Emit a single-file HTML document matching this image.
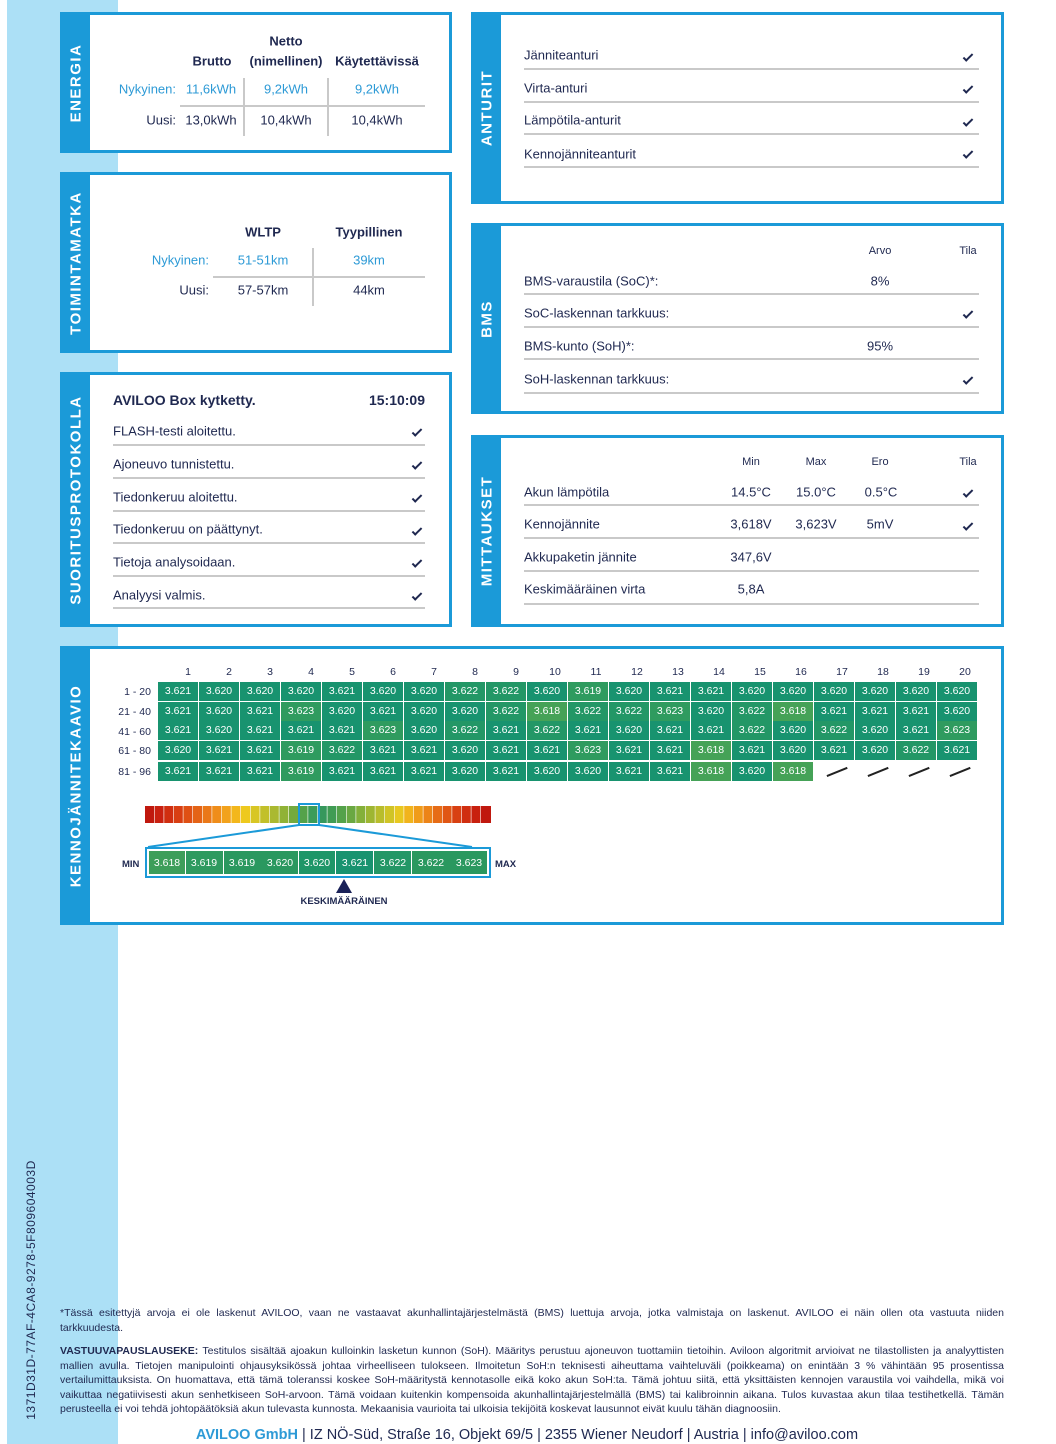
<!DOCTYPE html>
<html><head><meta charset="utf-8">
<style>
*{margin:0;padding:0;box-sizing:border-box}
body{width:1056px;height:1444px;position:relative;background:#fff;font-family:"Liberation Sans",sans-serif;color:#1f2850;overflow:hidden}
.strip{position:absolute;left:7px;top:0;width:111px;height:1444px;background:#ace0f6}
.box{position:absolute;border:3px solid #1b9ad8;background:#fff}
.bar{position:absolute;left:0;top:0;bottom:0;width:27px;background:#1b9ad8}
.vl{position:absolute;left:13px;top:50%;transform:translate(-50%,-50%) rotate(-90deg);color:#fff;font-weight:bold;font-size:15px;letter-spacing:1.5px;white-space:nowrap}
.t{position:absolute;transform:translateY(-50%);white-space:nowrap;font-size:13px}
.c{position:absolute;transform:translate(-50%,-50%);white-space:nowrap;font-size:13px}
.r{position:absolute;transform:translate(-100%,-50%);white-space:nowrap;font-size:13px}
.b{font-weight:bold}
.lb{color:#2d9ad6}
.h{position:absolute;height:2px;background:#c9c9c9}
.v{position:absolute;width:2px;background:#c9c9c9}
.ck{position:absolute;width:5px;height:10px;border-right:2px solid #1f2850;border-bottom:2px solid #1f2850;transform:translate(-50%,-65%) rotate(45deg);font-size:0;color:transparent}
.sm{font-size:11px}
.row{position:absolute;left:158px;display:flex;height:19px}
.row div{width:40px;margin-right:1px;height:19px;color:#fff;font-size:10.5px;text-align:center;line-height:19px;background:#18936f}
.row .a{background:#239766}.row .bq{background:#2f9b5f}.row .d{background:#45a257}
.row .n{background:#fff;position:relative}
.row .n::after{content:"";position:absolute;left:12px;top:9px;width:22px;height:1.5px;background:#222;transform:rotate(-22deg)}
.rl{position:absolute;transform:translate(-100%,-50%);font-size:10.5px;left:151px}
.cn{position:absolute;transform:translate(-50%,-50%);font-size:10.5px;top:672px}
.foot{position:absolute;left:60px;width:944px;font-family:"Liberation Sans Narrow","Liberation Sans",sans-serif;font-size:10.5px;line-height:14.5px;text-align:justify;color:#1f2850}
</style></head><body>
<div class="strip"></div>
<div style="position:absolute;left:31px;top:1290px;transform:translate(-50%,-50%) rotate(-90deg);font-size:12px;color:#1f2850;white-space:nowrap;letter-spacing:0.5px">1371D31D-77AF-4CA8-9278-5F809604003D</div>

<!-- ENERGIA -->
<div class="box" style="left:60px;top:12px;width:392px;height:141px"><div class="bar"><div class="vl">ENERGIA</div></div></div>
<div class="c b" style="left:286px;top:41px">Netto</div>
<div class="c b" style="left:212px;top:61px">Brutto</div>
<div class="c b" style="left:286px;top:61px">(nimellinen)</div>
<div class="c b" style="left:377px;top:61px">Käytettävissä</div>
<div class="r lb" style="left:176px;top:89px">Nykyinen:</div>
<div class="c lb" style="left:211px;top:89px">11,6kWh</div>
<div class="c lb" style="left:286px;top:89px">9,2kWh</div>
<div class="c lb" style="left:377px;top:89px">9,2kWh</div>
<div class="r" style="left:176px;top:120px">Uusi:</div>
<div class="c" style="left:211px;top:120px">13,0kWh</div>
<div class="c" style="left:286px;top:120px">10,4kWh</div>
<div class="c" style="left:377px;top:120px">10,4kWh</div>
<div class="h" style="left:180px;top:105px;width:245px"></div>
<div class="v" style="left:243px;top:78px;height:58px"></div>
<div class="v" style="left:327px;top:78px;height:58px"></div>

<!-- TOIMINTAMATKA -->
<div class="box" style="left:60px;top:172px;width:392px;height:181px"><div class="bar"><div class="vl">TOIMINTAMATKA</div></div></div>
<div class="c b" style="left:263px;top:232px">WLTP</div>
<div class="c b" style="left:369px;top:232px">Tyypillinen</div>
<div class="r lb" style="left:209px;top:260px">Nykyinen:</div>
<div class="c lb" style="left:263px;top:260px">51-51km</div>
<div class="c lb" style="left:369px;top:260px">39km</div>
<div class="r" style="left:209px;top:290px">Uusi:</div>
<div class="c" style="left:263px;top:290px">57-57km</div>
<div class="c" style="left:369px;top:290px">44km</div>
<div class="h" style="left:213px;top:276px;width:212px"></div>
<div class="v" style="left:312px;top:248px;height:58px"></div>

<!-- SUORITUSPROTOKOLLA -->
<div class="box" style="left:60px;top:372px;width:392px;height:255px"><div class="bar"><div class="vl">SUORITUSPROTOKOLLA</div></div></div>
<div class="t b" style="left:113px;top:400px;font-size:14px">AVILOO Box kytketty.</div>
<div class="r b" style="left:425px;top:400px;font-size:14px">15:10:09</div>
<div class="t" style="left:113px;top:431px">FLASH-testi aloitettu.</div><div class="ck" style="left:417px;top:433px">✓</div><div class="h" style="left:113px;top:444px;width:312px"></div>
<div class="t" style="left:113px;top:464px">Ajoneuvo tunnistettu.</div><div class="ck" style="left:417px;top:466px">✓</div><div class="h" style="left:113px;top:477px;width:312px"></div>
<div class="t" style="left:113px;top:497px">Tiedonkeruu aloitettu.</div><div class="ck" style="left:417px;top:499px">✓</div><div class="h" style="left:113px;top:510px;width:312px"></div>
<div class="t" style="left:113px;top:529px">Tiedonkeruu on päättynyt.</div><div class="ck" style="left:417px;top:532px">✓</div><div class="h" style="left:113px;top:542px;width:312px"></div>
<div class="t" style="left:113px;top:562px">Tietoja analysoidaan.</div><div class="ck" style="left:417px;top:564px">✓</div><div class="h" style="left:113px;top:575px;width:312px"></div>
<div class="t" style="left:113px;top:595px">Analyysi valmis.</div><div class="ck" style="left:417px;top:597px">✓</div><div class="h" style="left:113px;top:607px;width:312px"></div>

<!-- ANTURIT -->
<div class="box" style="left:471px;top:12px;width:533px;height:192px"><div class="bar"><div class="vl">ANTURIT</div></div></div>
<div class="t" style="left:524px;top:55px">Jänniteanturi</div><div class="ck" style="left:968px;top:58px">✓</div><div class="h" style="left:524px;top:68px;width:455px"></div>
<div class="t" style="left:524px;top:88px">Virta-anturi</div><div class="ck" style="left:968px;top:90px">✓</div><div class="h" style="left:524px;top:101px;width:455px"></div>
<div class="t" style="left:524px;top:120px">Lämpötila-anturit</div><div class="ck" style="left:968px;top:123px">✓</div><div class="h" style="left:524px;top:133px;width:455px"></div>
<div class="t" style="left:524px;top:154px">Kennojänniteanturit</div><div class="ck" style="left:968px;top:155px">✓</div><div class="h" style="left:524px;top:166px;width:455px"></div>

<!-- BMS -->
<div class="box" style="left:471px;top:223px;width:533px;height:191px"><div class="bar"><div class="vl">BMS</div></div></div>
<div class="c sm" style="left:880px;top:251px">Arvo</div><div class="c sm" style="left:968px;top:251px">Tila</div>
<div class="t" style="left:524px;top:281px">BMS-varaustila (SoC)*:</div><div class="c" style="left:880px;top:281px">8%</div><div class="h" style="left:524px;top:293px;width:455px"></div>
<div class="t" style="left:524px;top:313px">SoC-laskennan tarkkuus:</div><div class="ck" style="left:968px;top:315px">✓</div><div class="h" style="left:524px;top:326px;width:455px"></div>
<div class="t" style="left:524px;top:346px">BMS-kunto (SoH)*:</div><div class="c" style="left:880px;top:346px">95%</div><div class="h" style="left:524px;top:358px;width:455px"></div>
<div class="t" style="left:524px;top:379px">SoH-laskennan tarkkuus:</div><div class="ck" style="left:968px;top:381px">✓</div><div class="h" style="left:524px;top:392px;width:455px"></div>

<!-- MITTAUKSET -->
<div class="box" style="left:471px;top:435px;width:533px;height:192px"><div class="bar"><div class="vl">MITTAUKSET</div></div></div>
<div class="c sm" style="left:751px;top:462px">Min</div><div class="c sm" style="left:816px;top:462px">Max</div><div class="c sm" style="left:880px;top:462px">Ero</div><div class="c sm" style="left:968px;top:462px">Tila</div>
<div class="t" style="left:524px;top:492px">Akun lämpötila</div><div class="c" style="left:751px;top:492px">14.5°C</div><div class="c" style="left:816px;top:492px">15.0°C</div><div class="c" style="left:881px;top:492px">0.5°C</div><div class="ck" style="left:968px;top:494px">✓</div><div class="h" style="left:524px;top:504px;width:455px"></div>
<div class="t" style="left:524px;top:524px">Kennojännite</div><div class="c" style="left:751px;top:524px">3,618V</div><div class="c" style="left:816px;top:524px">3,623V</div><div class="c" style="left:880px;top:524px">5mV</div><div class="ck" style="left:968px;top:527px">✓</div><div class="h" style="left:524px;top:537px;width:455px"></div>
<div class="t" style="left:524px;top:557px">Akkupaketin jännite</div><div class="c" style="left:751px;top:557px">347,6V</div><div class="h" style="left:524px;top:570px;width:455px"></div>
<div class="t" style="left:524px;top:589px">Keskimääräinen virta</div><div class="c" style="left:751px;top:589px">5,8A</div><div class="h" style="left:524px;top:603px;width:455px"></div>

<!-- KENNOJÄNNITEKAAVIO -->
<div class="box" style="left:60px;top:646px;width:944px;height:279px"><div class="bar"><div class="vl">KENNOJÄNNITEKAAVIO</div></div></div>
<div class="cn" style="left:188px">1</div><div class="cn" style="left:229px">2</div><div class="cn" style="left:270px">3</div><div class="cn" style="left:311px">4</div><div class="cn" style="left:352px">5</div><div class="cn" style="left:393px">6</div><div class="cn" style="left:434px">7</div><div class="cn" style="left:475px">8</div><div class="cn" style="left:516px">9</div><div class="cn" style="left:555px">10</div><div class="cn" style="left:596px">11</div><div class="cn" style="left:637px">12</div><div class="cn" style="left:678px">13</div><div class="cn" style="left:719px">14</div><div class="cn" style="left:760px">15</div><div class="cn" style="left:801px">16</div><div class="cn" style="left:842px">17</div><div class="cn" style="left:883px">18</div><div class="cn" style="left:924px">19</div><div class="cn" style="left:965px">20</div>
<div class="rl" style="top:692px">1 - 20</div><div class="rl" style="top:712px">21 - 40</div><div class="rl" style="top:732px">41 - 60</div><div class="rl" style="top:751px">61 - 80</div><div class="rl" style="top:772px">81 - 96</div>
<div class="row" style="top:682px"><div>3.621</div><div>3.620</div><div>3.620</div><div>3.620</div><div>3.621</div><div>3.620</div><div>3.620</div><div class="a">3.622</div><div class="a">3.622</div><div>3.620</div><div class="bq">3.619</div><div>3.620</div><div>3.621</div><div>3.621</div><div>3.620</div><div>3.620</div><div>3.620</div><div>3.620</div><div>3.620</div><div>3.620</div></div>
<div class="row" style="top:702px"><div>3.621</div><div>3.620</div><div>3.621</div><div class="bq">3.623</div><div>3.620</div><div>3.621</div><div>3.620</div><div>3.620</div><div class="a">3.622</div><div class="d">3.618</div><div class="a">3.622</div><div class="a">3.622</div><div class="bq">3.623</div><div>3.620</div><div class="a">3.622</div><div class="d">3.618</div><div>3.621</div><div>3.621</div><div>3.621</div><div>3.620</div></div>
<div class="row" style="top:721px;height:20px"><div>3.621</div><div>3.620</div><div>3.621</div><div>3.621</div><div>3.621</div><div class="bq">3.623</div><div>3.620</div><div class="a">3.622</div><div>3.621</div><div class="a">3.622</div><div>3.621</div><div>3.620</div><div>3.621</div><div>3.621</div><div class="a">3.622</div><div>3.620</div><div class="a">3.622</div><div>3.620</div><div>3.621</div><div class="bq">3.623</div></div>
<div class="row" style="top:741px"><div>3.620</div><div>3.621</div><div>3.621</div><div class="bq">3.619</div><div class="a">3.622</div><div>3.621</div><div>3.621</div><div>3.620</div><div>3.621</div><div>3.621</div><div class="bq">3.623</div><div>3.621</div><div>3.621</div><div class="d">3.618</div><div>3.621</div><div>3.620</div><div>3.621</div><div>3.620</div><div class="a">3.622</div><div>3.621</div></div>
<div class="row" style="top:762px"><div>3.621</div><div>3.621</div><div>3.621</div><div class="bq">3.619</div><div>3.621</div><div>3.621</div><div>3.621</div><div>3.620</div><div>3.621</div><div>3.620</div><div>3.620</div><div>3.621</div><div>3.621</div><div class="d">3.618</div><div>3.620</div><div class="d">3.618</div><div class="n"></div><div class="n"></div><div class="n"></div><div class="n"></div></div>

<svg style="position:absolute;left:0;top:0" width="1056" height="1444">
<g id="grad">
<rect x="145" y="806" width="9" height="17" fill="#c0180e"/><rect x="154.6" y="806" width="9" height="17" fill="#c92010"/><rect x="164.2" y="806" width="9" height="17" fill="#d02e10"/><rect x="173.8" y="806" width="9" height="17" fill="#d83e12"/><rect x="183.4" y="806" width="9" height="17" fill="#df5014"/><rect x="193" y="806" width="9" height="17" fill="#e46316"/><rect x="202.6" y="806" width="9" height="17" fill="#ea7818"/><rect x="212.2" y="806" width="9" height="17" fill="#ef8d1a"/><rect x="221.8" y="806" width="9" height="17" fill="#f2a21c"/><rect x="231.4" y="806" width="9" height="17" fill="#f3b71c"/><rect x="241" y="806" width="9" height="17" fill="#eec91e"/><rect x="250.6" y="806" width="9" height="17" fill="#d8c624"/><rect x="260.2" y="806" width="9" height="17" fill="#c2c02a"/><rect x="269.8" y="806" width="9" height="17" fill="#aab930"/><rect x="279.4" y="806" width="9" height="17" fill="#90b236"/><rect x="289" y="806" width="9" height="17" fill="#74aa3e"/><rect x="298.6" y="806" width="9" height="17" fill="#54a24a"/><rect x="308.2" y="806" width="9" height="17" fill="#3c9c58"/><rect x="317.8" y="806" width="9" height="17" fill="#36985c"/><rect x="327.4" y="806" width="9" height="17" fill="#409c54"/><rect x="337" y="806" width="9" height="17" fill="#54a24a"/><rect x="346.6" y="806" width="9" height="17" fill="#6aa842"/><rect x="356.2" y="806" width="9" height="17" fill="#84b03a"/><rect x="365.8" y="806" width="9" height="17" fill="#9eb632"/><rect x="375.4" y="806" width="9" height="17" fill="#b8bd2c"/><rect x="385" y="806" width="9" height="17" fill="#d0c426"/><rect x="394.6" y="806" width="9" height="17" fill="#e8c820"/><rect x="404.2" y="806" width="9" height="17" fill="#f1b41c"/><rect x="413.8" y="806" width="9" height="17" fill="#f09c1a"/><rect x="423.4" y="806" width="9" height="17" fill="#ec8418"/><rect x="433" y="806" width="9" height="17" fill="#e66c16"/><rect x="442.6" y="806" width="9" height="17" fill="#e05614"/><rect x="452.2" y="806" width="9" height="17" fill="#d84012"/><rect x="461.8" y="806" width="9" height="17" fill="#d02e10"/><rect x="471.4" y="806" width="9" height="17" fill="#c8200e"/><rect x="481" y="806" width="10" height="17" fill="#c0180e"/>
</g>
<rect x="299" y="804" width="20" height="21" fill="none" stroke="#1b9ad8" stroke-width="2"/>
<line x1="299" y1="825" x2="148" y2="847" stroke="#1b9ad8" stroke-width="2"/>
<line x1="319" y1="825" x2="472" y2="847" stroke="#1b9ad8" stroke-width="2"/>
<rect x="146" y="848" width="344" height="29" fill="#fff" stroke="#1b9ad8" stroke-width="2"/>
<g fill="#1e9668"><rect x="149" y="851" width="36" height="23" fill="#3d9e5a"/><rect x="186" y="851" width="37" height="23" fill="#2e9a5f"/><rect x="224" y="851" width="74" height="23" fill="#2a985f"/><rect x="299" y="851" width="36" height="23"/><rect x="336" y="851" width="37" height="23" fill="#18936f"/><rect x="374" y="851" width="37" height="23" fill="#239766"/><rect x="412" y="851" width="75" height="23" fill="#2a985f"/></g>
<g fill="#fff" font-family="Liberation Sans" font-size="10.5" text-anchor="middle"><text x="167" y="866">3.618</text><text x="204" y="866">3.619</text><text x="242" y="866">3.619</text><text x="280" y="866">3.620</text><text x="317" y="866">3.620</text><text x="355" y="866">3.621</text><text x="393" y="866">3.622</text><text x="431" y="866">3.622</text><text x="469" y="866">3.623</text></g>
<text x="122" y="867" font-family="Liberation Sans" font-size="9.5" font-weight="bold" fill="#1f2850">MIN</text>
<text x="495" y="867" font-family="Liberation Sans" font-size="9.5" font-weight="bold" fill="#1f2850">MAX</text>
<polygon points="344,879 336,893 352,893" fill="#1a2158"/>
<text x="344" y="904" text-anchor="middle" font-family="Liberation Sans" font-size="9.5" font-weight="bold" fill="#1f2850">KESKIMÄÄRÄINEN</text>
</svg>

<div class="foot" style="top:1306px"><div style="text-align:justify;text-align-last:justify">*Tässä esitettyjä arvoja ei ole laskenut AVILOO, vaan ne vastaavat akunhallintajärjestelmästä (BMS) luettuja arvoja, jotka valmistaja on laskenut. AVILOO ei näin ollen ota vastuuta niiden</div><div>tarkkuudesta.</div></div>
<div class="foot" style="top:1344px"><b>VASTUUVAPAUSLAUSEKE:</b> Testitulos sisältää ajoakun kulloinkin lasketun kunnon (SoH). Määritys perustuu ajoneuvon tuottamiin tietoihin. Aviloon algoritmit arvioivat ne tilastollisten ja analyyttisten mallien avulla. Tietojen manipulointi ohjausyksikössä johtaa virheelliseen tulokseen. Ilmoitetun SoH:n teknisesti aiheuttama vaihteluväli (poikkeama) on enintään 3 % vähintään 95 prosentissa vertailumittauksista. On huomattava, että tämä toleranssi koskee SoH-määritystä kennotasolle eikä koko akun SoH:ta. Tämä johtuu siitä, että yksittäisten kennojen varaustila voi vaihdella, mikä voi vaikuttaa negatiivisesti akun senhetkiseen SoH-arvoon. Tämä voidaan kuitenkin kompensoida akunhallintajärjestelmällä (BMS) tai kalibroinnin aikana. Tulos kuvastaa akun tilaa testihetkellä. Tämän perusteella ei voi tehdä johtopäätöksiä akun tulevasta kunnosta. Mekaanisia vaurioita tai ulkoisia tekijöitä koskevat lausunnot eivät kuulu tähän diagnoosiin.</div>
<div class="c" style="left:527px;top:1435px;font-size:14.5px"><span class="lb" style="font-weight:bold">AVILOO GmbH</span> | IZ NÖ-Süd, Straße 16, Objekt 69/5 | 2355 Wiener Neudorf | Austria | info@aviloo.com</div>
</body></html>
